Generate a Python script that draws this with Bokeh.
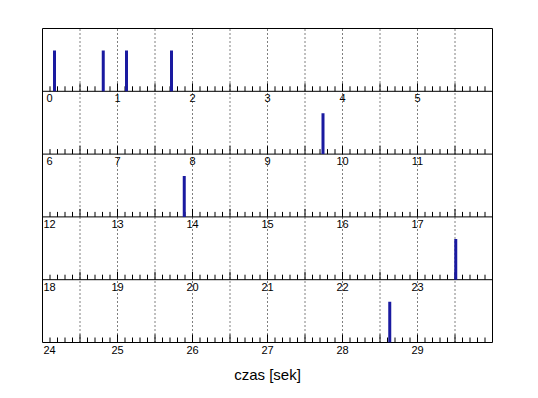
import numpy as np
from bokeh.plotting import figure
from bokeh.models import Range1d, FixedTicker
from bokeh.core.properties import value
from bokeh.embed import file_html
from bokeh.resources import INLINE

# ---- data ----
event_times = [0.16, 0.81, 1.12, 1.72, 9.74, 13.89, 23.51, 28.63]  # seconds
row_starts = [0, 6, 12, 18, 24]                                     # each row covers 6 s
row_tick_labels = [
    ["0", "1", "2", "3", "4", "5"],
    ["6", "7", "8", "9", "10", "11"],
    ["12", "13", "14", "15", "16", "17"],
    ["18", "19", "20", "21", "22", "23"],
    ["24", "25", "26", "27", "28", "29"],
]
x_label = "czas [sek]"

ROW_LEN = 6
N_ROWS = len(row_starts)
SPIKE_H = 0.65
PX = N_ROWS / 314.0          # data units per pixel vertically
FIRST_SHIFT = 7 / 75.0       # first label of each row sits right of the border

p = figure(frame_width=450, frame_height=314, output_backend="svg",
           toolbar_location=None, x_range=Range1d(0, ROW_LEN),
           y_range=Range1d(0, N_ROWS), min_border_left=42, min_border_top=28,
           min_border_right=24, min_border_bottom=0, y_axis_location=None)
p.xgrid.visible = False
p.ygrid.visible = False
p.outline_line_color = "black"
p.outline_line_alpha = 1
p.outline_line_width = 1
p.background_fill_color = "white"
p.border_fill_color = "white"

# dotted vertical grid every 0.5 s
gx = np.arange(0.5, ROW_LEN, 0.5)
p.segment(x0=gx, y0=0, x1=gx, y1=N_ROWS, line_color="black",
          line_dash="1 3", line_width=1)

# row separators
sy = np.arange(1, N_ROWS)
p.segment(x0=0, y0=sy, x1=ROW_LEN, y1=sy, line_color="black", line_width=1)

# ticks (pointing up from each row's bottom)
tx = np.round(np.arange(0.1, ROW_LEN, 0.1), 3)
is_major = np.isclose((tx * 2) % 1, 0) | np.isclose((tx * 2) % 1, 1)
tlen = np.where(is_major, 8 * PX, 5 * PX)
for r in range(N_ROWS):
    yb = N_ROWS - 1 - r
    p.segment(x0=tx, y0=yb, x1=tx, y1=yb + tlen, line_color="black", line_width=1)

# tick labels for rows above the last (drawn inside the next row)
for r in range(N_ROWS - 1):
    labs = row_tick_labels[r]
    xs = [i + (FIRST_SHIFT if i == 0 else 0) for i in range(len(labs))]
    p.text(x=xs, y=[N_ROWS - 1 - r] * len(labs), text=labs,
           text_font=value("Liberation Sans"), text_font_size="11px",
           text_color="black", text_align="center", text_baseline="top",
           y_offset=3)

# spikes
ev = np.array(event_times)
rows = np.array([int(t // ROW_LEN) for t in event_times])
ex = ev - np.array(row_starts)[rows]
ey0 = N_ROWS - 1 - rows
p.segment(x0=ex, y0=ey0, x1=ex, y1=ey0 + SPIKE_H, line_color="#1a1aa0",
          line_width=3)

# bottom axis carries last row labels and axis label
last = row_tick_labels[-1]
ticks = [i + (FIRST_SHIFT if i == 0 else 0) for i in range(len(last))]
ax = p.xaxis[0]
ax.ticker = FixedTicker(ticks=ticks)
ax.major_label_overrides = {t: l for t, l in zip(ticks, last)}
ax.axis_line_color = None
ax.major_tick_line_color = None
ax.minor_tick_line_color = None
ax.major_tick_in = 0
ax.major_tick_out = 0
ax.minor_tick_in = 0
ax.minor_tick_out = 0
ax.major_label_standoff = 3
ax.major_label_text_font = "Liberation Sans"
ax.major_label_text_font_size = "11px"
ax.major_label_text_color = "black"
ax.axis_label = x_label
ax.axis_label_text_font = "Liberation Sans"
ax.axis_label_text_font_size = "15px"
ax.axis_label_text_font_style = "normal"
ax.axis_label_text_color = "black"
ax.axis_label_standoff = 9

open("out.html", "w").write(file_html(p, INLINE))
